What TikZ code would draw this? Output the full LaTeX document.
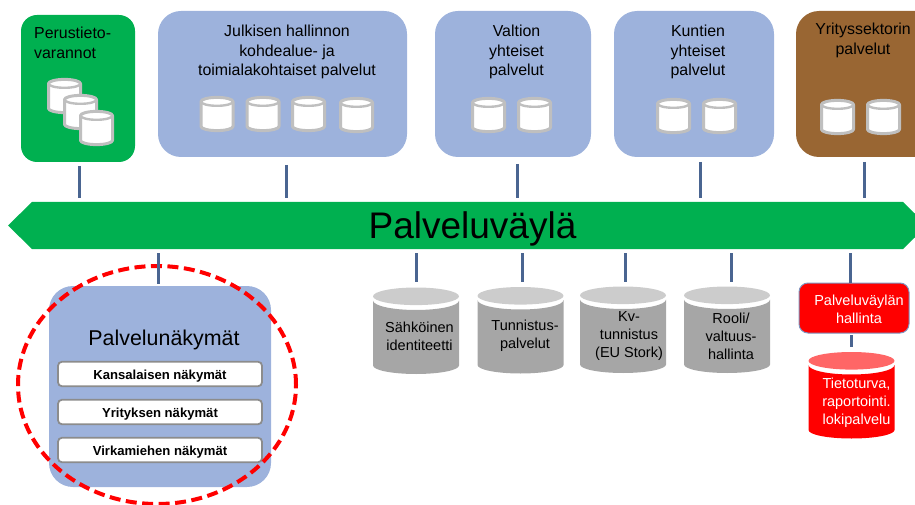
\documentclass[tikz,border=0pt]{standalone}
\usepackage{fontspec}
\setmainfont{Liberation Sans}
\usetikzlibrary{shapes.geometric}
\definecolor{busgreen}{HTML}{00B050}
\definecolor{panelblue}{HTML}{9DB2DC}
\definecolor{panelbrown}{HTML}{996633}
\definecolor{linkblue}{HTML}{4A6591}
\definecolor{rim}{HTML}{BFBFBF}
\definecolor{dbgrey}{HTML}{A6A6A6}
\definecolor{dbgreytop}{HTML}{CCCCCC}
\definecolor{dbredtop}{HTML}{FF6666}
\definecolor{viewrim}{HTML}{8C8C8C}
\definecolor{mgmtrim}{HTML}{7F94BF}
\tikzset{
  panel/.style={rounded corners=#1,inner sep=0pt,draw=none},
  toptext/.style={font=\fontsize{15.9}{19.5}\selectfont,align=center,text=black,inner sep=0pt},
  dbtext/.style={font=\fontsize{14.5}{18}\selectfont,align=center,inner sep=0pt},
  viewbox/.style={draw=viewrim,line width=1.8pt,fill=white,rounded corners=4pt,minimum width=204pt,minimum height=24.5pt,inner sep=0pt,text height=11pt,text depth=1pt,font=\fontsize{13.1}{15}\selectfont\bfseries},
  link/.style={draw=linkblue,line width=3pt},
  minidb/.style={draw=rim,line width=3pt,fill=white,line join=round}
}
\newcommand{\dbmini}[2]{%
  \begin{scope}[shift={(#1,#2)}]
    \path[minidb] (1.5,5.6) arc[start angle=180,end angle=0,x radius=16pt,y radius=4.2pt] -- (33.5,30.4) arc[start angle=0,end angle=-180,x radius=16pt,y radius=4.2pt] -- cycle;
    \path[draw=rim,line width=2.4pt] (1.5,5.6) arc[start angle=180,end angle=360,x radius=16pt,y radius=4.2pt];
  \end{scope}}
\newcommand{\dbbig}[4]{%
  \begin{scope}[shift={(#1,#2)}]
    \fill[#3] (0,13) arc[start angle=180,end angle=360,x radius=43pt,y radius=9.5pt] -- (86,78) arc[start angle=0,end angle=-180,x radius=43pt,y radius=8.5pt] -- cycle;
    \fill[#4] (43,8.8) ellipse[x radius=43pt,y radius=8.8pt];
  \end{scope}}
\begin{document}
\begin{tikzpicture}[x=1pt,y=-1pt]
\useasboundingbox (0,0) rectangle (915,505);
\clip (0,0) rectangle (915,505);
% upper panels
\node[panel=16pt,fill=busgreen,minimum width=114pt,minimum height=147pt] (perus) at (78,88.5) {};
\node[panel=23pt,fill=panelblue,minimum width=249pt,minimum height=146pt] (julk) at (282.5,84) {};
\node[panel=23pt,fill=panelblue,minimum width=156pt,minimum height=146pt] (valt) at (513,84) {};
\node[panel=23pt,fill=panelblue,minimum width=160pt,minimum height=146pt] (kunt) at (694,84) {};
\node[panel=23pt,fill=panelbrown,minimum width=160pt,minimum height=146pt] (yrit) at (876,84) {};
\node[toptext,align=left,anchor=north west] (perustxt) at (34,27) {Perustieto-\\varannot};
\node[toptext] (julktxt) at (287,52) {Julkisen hallinnon\\kohdealue- ja\\toimialakohtaiset palvelut};
\node[toptext] (valttxt) at (516.5,52) {Valtion\\yhteiset\\palvelut};
\node[toptext] (kunttxt) at (698,52) {Kuntien\\yhteiset\\palvelut};
\node[toptext] (yrittxt) at (863,40.5) {Yrityssektorin\\palvelut};
\dbmini{47}{78}\dbmini{63}{94}\dbmini{79}{110}
\dbmini{199.5}{96}\dbmini{245.5}{96}\dbmini{291}{96}\dbmini{339}{97}
\dbmini{471}{97}\dbmini{517}{97}
\dbmini{656}{98}\dbmini{702}{98}
\dbmini{820}{99}\dbmini{866}{99}
% bus
\fill[busgreen] (8,225.5) -- (32,202) -- (903,202) -- (927,225.5) -- (903,249) -- (32,249) -- cycle;
\node[font=\fontsize{37}{40}\selectfont,inner sep=0pt,text=black] (bus) at (472.5,229) {Palveluväylä};
% view panel
\node[panel=24pt,fill=panelblue,minimum width=222pt,minimum height=201pt] (views) at (160,386.5) {};
\node[font=\fontsize{21.4}{24}\selectfont,inner sep=0pt] (viewstxt) at (164,339.5) {Palvelunäkymät};
\node[viewbox] (v1) at (160,374) {Kansalaisen näkymät};
\node[viewbox] (v2) at (160,412) {Yrityksen näkymät};
\node[viewbox] (v3) at (160,450) {Virkamiehen näkymät};
\node[ellipse,draw=red,line width=4pt,dash pattern=on 11pt off 5.5pt,minimum width=278pt,minimum height=238pt,inner sep=0pt] (focus) at (157,385) {};
% lower stores
\dbbig{373}{287.5}{dbgrey}{dbgreytop}
\dbbig{477.5}{287}{dbgrey}{dbgreytop}
\dbbig{580}{286.5}{dbgrey}{dbgreytop}
\dbbig{684}{286.5}{dbgrey}{dbgreytop}
\dbbig{808.5}{352}{red}{dbredtop}
\node[dbtext] (s1) at (419.5,336.5) {Sähköinen\\identiteetti};
\node[dbtext] (s2) at (525,335.5) {Tunnistus-\\palvelut};
\node[dbtext] (s3) at (629,336.5) {Kv-\\tunnistus\\(EU Stork)};
\node[dbtext] (s4) at (731,336) {Rooli/\\valtuus-\\hallinta};
\node[panel=9pt,fill=red,draw=mgmtrim,line width=1pt,minimum width=110pt,minimum height=50pt] (mgmt) at (854,308) {};
\node[dbtext,text=white] (mgmttxt) at (859,309) {Palveluväylän\\hallinta};
\node[dbtext,text=white] (redtxt) at (856.5,402.5) {Tietoturva,\\raportointi.\\lokipalvelu};
% connectors
\foreach \n/\x/\a/\b in {ta/79/166/198,tb/286/165/198,tc/517/164/198,td/700/162/198,te/864/162/198,
  ba/158/253/284,bb/416/253/282,bc/522/253/282,bd/625/253/282,be/731/253/282,bf/850.5/253/283,bg/851.5/335/347}{
  \coordinate (\n1) at (\x,\a);
  \coordinate (\n2) at (\x,\b);
  \draw[link] (\n1) -- (\n2);
}
\end{tikzpicture}
\end{document}
